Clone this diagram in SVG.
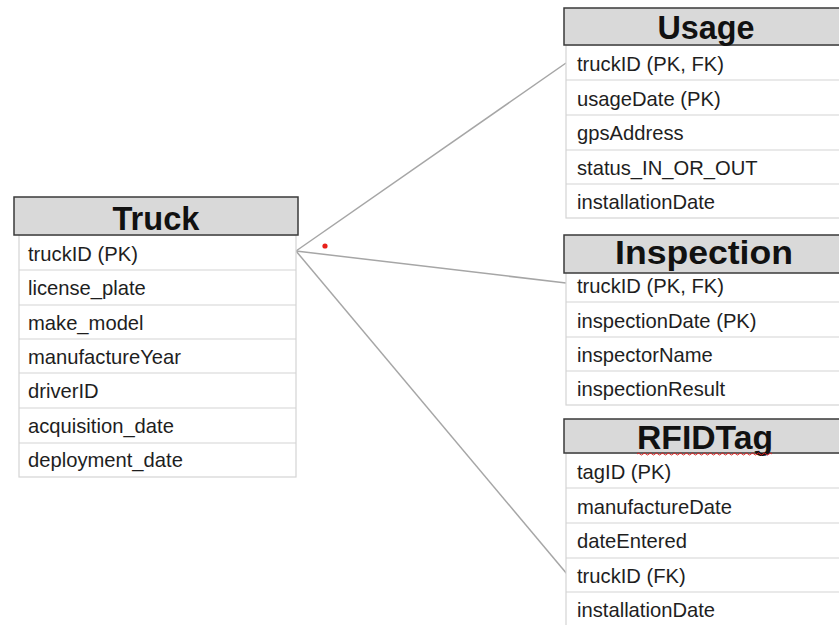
<svg xmlns="http://www.w3.org/2000/svg" width="839" height="625" viewBox="0 0 839 625">
  <style>
    .hdr { fill: #d9d9d9; stroke: #3a3a3a; stroke-width: 1.5; }
    .body { fill: #ffffff; stroke: #d4d4d4; stroke-width: 1.2; }
    .sep { stroke: #d4d4d4; stroke-width: 1.2; }
    .title { font-family: "Liberation Sans", Arial, sans-serif; font-weight: bold; font-size: 34px; fill: #111; text-anchor: middle; }
    .fld { font-family: "Liberation Sans", Arial, sans-serif; font-size: 20.2px; fill: #1e1e1e; }
    .rel { stroke: #a6a6a6; stroke-width: 1.5; fill: none; }
  </style>

  <rect x="0" y="0" width="839" height="625" fill="#ffffff"/>

  <!-- relationship lines fanning out of Truck -->
  <g id="connectors">
    <line class="rel" x1="296" y1="251" x2="566" y2="63"/>
    <line class="rel" x1="296" y1="251" x2="566" y2="283"/>
    <line class="rel" x1="296" y1="251" x2="567" y2="574"/>
  </g>

  <circle cx="325" cy="246" r="2.6" fill="#e8201a"/>

  <g id="truck">
    <rect class="body" x="19" y="235" width="277" height="242"/>
    <line class="sep" x1="19" y1="270" x2="296" y2="270"/>
    <line class="sep" x1="19" y1="305" x2="296" y2="305"/>
    <line class="sep" x1="19" y1="339" x2="296" y2="339"/>
    <line class="sep" x1="19" y1="373" x2="296" y2="373"/>
    <line class="sep" x1="19" y1="408" x2="296" y2="408"/>
    <line class="sep" x1="19" y1="443" x2="296" y2="443"/>
    <rect class="hdr" x="14" y="197" width="284" height="38"/>
    <text class="title" x="156" y="230" textLength="87" lengthAdjust="spacingAndGlyphs">Truck</text>
    <text class="fld" x="28" y="261">truckID (PK)</text>
    <text class="fld" x="28" y="295">license_plate</text>
    <text class="fld" x="28" y="330">make_model</text>
    <text class="fld" x="28" y="364">manufactureYear</text>
    <text class="fld" x="28" y="398">driverID</text>
    <text class="fld" x="28" y="433">acquisition_date</text>
    <text class="fld" x="28" y="467">deployment_date</text>
  </g>

  <g id="usage">
    <rect class="body" x="566" y="45" width="290" height="173"/>
    <line class="sep" x1="566" y1="80" x2="856" y2="80"/>
    <line class="sep" x1="566" y1="115" x2="856" y2="115"/>
    <line class="sep" x1="566" y1="150" x2="856" y2="150"/>
    <line class="sep" x1="566" y1="184" x2="856" y2="184"/>
    <rect class="hdr" x="564" y="8" width="290" height="37"/>
    <text class="title" x="706" y="39" textLength="97" lengthAdjust="spacingAndGlyphs">Usage</text>
    <text class="fld" x="577" y="71">truckID (PK, FK)</text>
    <text class="fld" x="577" y="106">usageDate (PK)</text>
    <text class="fld" x="577" y="140">gpsAddress</text>
    <text class="fld" x="577" y="175">status_IN_OR_OUT</text>
    <text class="fld" x="577" y="209">installationDate</text>
  </g>

  <g id="inspection">
    <rect class="body" x="566" y="268" width="290" height="137"/>
    <line class="sep" x1="566" y1="302" x2="856" y2="302"/>
    <line class="sep" x1="566" y1="337" x2="856" y2="337"/>
    <line class="sep" x1="566" y1="371" x2="856" y2="371"/>
    <rect class="hdr" x="564" y="235" width="290" height="38"/>
    <text class="title" x="704" y="264" textLength="178" lengthAdjust="spacingAndGlyphs">Inspection</text>
    <text class="fld" x="577" y="293">truckID (PK, FK)</text>
    <text class="fld" x="577" y="328">inspectionDate (PK)</text>
    <text class="fld" x="577" y="362">inspectorName</text>
    <text class="fld" x="577" y="396">inspectionResult</text>
  </g>

  <g id="rfidtag">
    <rect class="body" x="566" y="453" width="290" height="180"/>
    <line class="sep" x1="566" y1="488" x2="856" y2="488"/>
    <line class="sep" x1="566" y1="523" x2="856" y2="523"/>
    <line class="sep" x1="566" y1="558" x2="856" y2="558"/>
    <line class="sep" x1="566" y1="592" x2="856" y2="592"/>
    <rect class="hdr" x="564" y="419" width="290" height="34"/>
    <text class="title" x="705" y="449" textLength="136" lengthAdjust="spacingAndGlyphs">RFIDTag</text>
    <path d="M637 454 q1.5 -2 3 0 t3 0 t3 0 t3 0 t3 0 t3 0 t3 0 t3 0 t3 0 t3 0 t3 0 t3 0 t3 0 t3 0 t3 0 t3 0 t3 0 t3 0 t3 0 t3 0 t3 0 t3 0 t3 0 t3 0 t3 0 t3 0 t3 0 t3 0 t3 0 t3 0 t3 0 t3 0 t3 0 t3 0 t3 0 t3 0 t3 0 t3 0 t3 0 t3 0 t3 0 t3 0 t3 0 t3 0 t3 0" fill="none" stroke="#e02020" stroke-width="1"/>
    <text class="fld" x="577" y="479">tagID (PK)</text>
    <text class="fld" x="577" y="514">manufactureDate</text>
    <text class="fld" x="577" y="548">dateEntered</text>
    <text class="fld" x="577" y="583">truckID (FK)</text>
    <text class="fld" x="577" y="617">installationDate</text>
  </g>
</svg>
